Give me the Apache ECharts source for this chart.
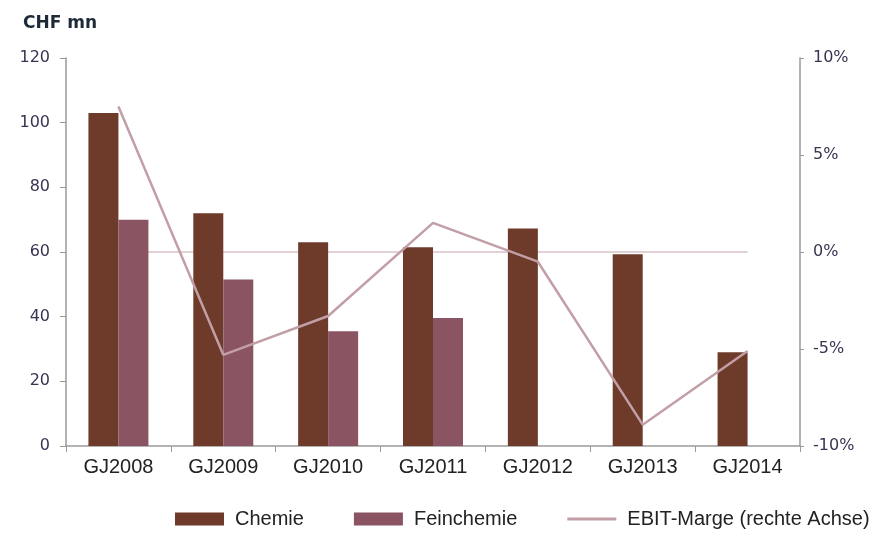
<!DOCTYPE html>
<html>
<head>
<meta charset="utf-8">
<script src="https://cdn.jsdelivr.net/npm/echarts@6/dist/echarts.min.js"></script>
<style>
  html, body { margin: 0; padding: 0; background: #fff; }
  #chart { width: 895px; height: 537px; }
</style>
</head>
<body>
<div id="chart"></div>
<script>
// Fiscal years
const categories = ['GJ2008', 'GJ2009', 'GJ2010', 'GJ2011', 'GJ2012', 'GJ2013', 'GJ2014'];
// Revenue, CHF mn
const chemie = [103, 72, 63, 61.5, 67.3, 59.3, 29];
const feinchemie = [70, 51.5, 35.5, 39.6, null, null, null];
// EBIT margin, % (right axis)
const ebitMarge = [7.5, -5.3, -3.3, 1.5, -0.5, -8.9, -5.1];
// Reference line at 0 %
const nullLinie = [0, 0, 0, 0, 0, 0, 0];

const leftTicks = [0, 20, 40, 60, 80, 100, 120];
const rightTicks = [-10, -5, 0, 5, 10];

const numFont = 'DejaVu Sans';
const txtFont = 'Liberation Sans';
const axisLabelColor = '#3a3452';
const lineColor = '#c29fa7';

const chart = echarts.init(document.getElementById('chart'));
chart.setOption({
  animation: false,
  backgroundColor: '#ffffff',
  title: {
    text: 'CHF mn',
    left: 18, top: 10,
    textStyle: { fontFamily: numFont, fontSize: 17, fontWeight: 'bold', color: '#1e2a38' }
  },
  legend: {
    left: 170, top: 504,
    itemGap: 50, itemWidth: 49, itemHeight: 13,
    textStyle: { fontFamily: txtFont, fontSize: 20, color: '#222', padding: [0, 0, 0, 6] },
    data: [
      { name: 'Chemie', icon: 'rect' },
      { name: 'Feinchemie', icon: 'rect' },
      { name: 'EBIT-Marge (rechte Achse)', icon: 'path://M0,0H49V3H0Z', itemStyle: { color: lineColor } }
    ]
  },
  grid: { left: 66, right: 95, top: 58, bottom: 91 },
  xAxis: {
    type: 'category',
    data: categories,
    axisLine: { lineStyle: { color: '#9a9a9a', width: 1.5 } },
    axisTick: { show: true, length: 6, lineStyle: { color: '#9a9a9a' } },
    axisLabel: { fontFamily: txtFont, fontSize: 20, color: '#222', margin: 11 }
  },
  yAxis: [
    {
      type: 'value',
      min: leftTicks[0], max: leftTicks[leftTicks.length - 1], interval: 20,
      axisLine: { show: true, lineStyle: { color: '#9a9a9a', width: 1.5 } },
      axisTick: { show: true, length: 6, lineStyle: { color: '#9a9a9a' } },
      splitLine: { show: false },
      axisLabel: { fontFamily: numFont, fontSize: 16, color: axisLabelColor, margin: 16 }
    },
    {
      type: 'value',
      position: 'right',
      min: rightTicks[0], max: rightTicks[rightTicks.length - 1], interval: 5,
      axisLine: { show: true, lineStyle: { color: '#9a9a9a', width: 1.5 } },
      axisTick: { show: true, length: 4, lineStyle: { color: '#9a9a9a' } },
      splitLine: { show: false },
      axisLabel: {
        fontFamily: numFont, fontSize: 16, color: axisLabelColor, margin: 13,
        formatter: v => v + '%'
      }
    }
  ],
  series: [
    {
      name: 'Chemie', type: 'bar', data: chemie,
      barWidth: 30, barGap: '0%',
      itemStyle: { color: '#6e3b2b' }
    },
    {
      name: 'Feinchemie', type: 'bar', data: feinchemie,
      barWidth: 30, barGap: '0%',
      itemStyle: { color: '#8b5463' }
    },
    {
      name: 'Nulllinie', type: 'line', yAxisIndex: 1, data: nullLinie,
      symbol: 'none', silent: true,
      lineStyle: { color: '#e3d2d5', width: 2 }, z: 1
    },
    {
      name: 'EBIT-Marge (rechte Achse)', type: 'line', yAxisIndex: 1, data: ebitMarge,
      symbol: 'none',
      lineStyle: { color: lineColor, width: 2.5 },
      itemStyle: { color: lineColor }, z: 3
    }
  ]
});
</script>
</body>
</html>
